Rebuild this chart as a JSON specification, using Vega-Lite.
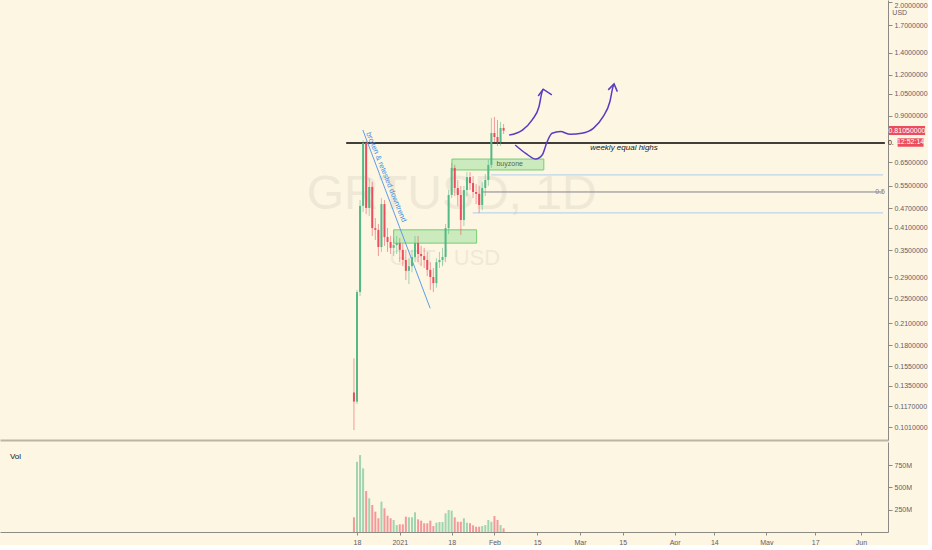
{
  "$schema": "https://vega.github.io/schema/vega-lite/v6.json",
  "background": "#fdf6e3",
  "padding": 0,
  "spacing": 2,
  "config": {
    "view": {"stroke": null},
    "font": "Liberation Sans",
    "axis": {"grid": false, "labelColor": "#5d606b", "labelFontSize": 7, "domainColor": "#8c8a85", "tickColor": "#8c8a85", "tickSize": 4, "labelPadding": 2}
  },
  "datasets": {
    "candles": [
      {"date": "2020-12-17T00:00", "open": 0.129, "high": 0.164, "low": 0.0991, "close": 0.121, "volume": 165000000},
      {"date": "2020-12-18T00:00", "open": 0.121, "high": 0.265, "low": 0.119, "close": 0.261, "volume": 788000000},
      {"date": "2020-12-19T00:00", "open": 0.261, "high": 0.498, "low": 0.254, "close": 0.478, "volume": 863000000},
      {"date": "2020-12-20T00:00", "open": 0.478, "high": 0.759, "low": 0.458, "close": 0.743, "volume": 714000000},
      {"date": "2020-12-21T00:00", "open": 0.743, "high": 0.754, "low": 0.451, "close": 0.471, "volume": 460000000},
      {"date": "2020-12-22T00:00", "open": 0.471, "high": 0.581, "low": 0.445, "close": 0.546, "volume": 378000000},
      {"date": "2020-12-23T00:00", "open": 0.546, "high": 0.565, "low": 0.387, "close": 0.409, "volume": 303000000},
      {"date": "2020-12-24T00:00", "open": 0.409, "high": 0.439, "low": 0.376, "close": 0.404, "volume": 228000000},
      {"date": "2020-12-25T00:00", "open": 0.404, "high": 0.421, "low": 0.336, "close": 0.358, "volume": 154000000},
      {"date": "2020-12-26T00:00", "open": 0.358, "high": 0.505, "low": 0.346, "close": 0.484, "volume": 340000000},
      {"date": "2020-12-27T00:00", "open": 0.484, "high": 0.498, "low": 0.361, "close": 0.384, "volume": 266000000},
      {"date": "2020-12-28T00:00", "open": 0.384, "high": 0.409, "low": 0.346, "close": 0.371, "volume": 183000000},
      {"date": "2020-12-29T00:00", "open": 0.371, "high": 0.387, "low": 0.341, "close": 0.356, "volume": 154000000},
      {"date": "2020-12-30T00:00", "open": 0.356, "high": 0.381, "low": 0.336, "close": 0.363, "volume": 135000000},
      {"date": "2020-12-31T00:00", "open": 0.363, "high": 0.387, "low": 0.341, "close": 0.368, "volume": 78000000},
      {"date": "2021-01-01T00:00", "open": 0.368, "high": 0.381, "low": 0.322, "close": 0.351, "volume": 86000000},
      {"date": "2021-01-02T00:00", "open": 0.351, "high": 0.366, "low": 0.313, "close": 0.327, "volume": 86000000},
      {"date": "2021-01-03T00:00", "open": 0.327, "high": 0.351, "low": 0.284, "close": 0.303, "volume": 172000000},
      {"date": "2021-01-04T00:00", "open": 0.303, "high": 0.331, "low": 0.276, "close": 0.313, "volume": 165000000},
      {"date": "2021-01-05T00:00", "open": 0.313, "high": 0.351, "low": 0.300, "close": 0.334, "volume": 165000000},
      {"date": "2021-01-06T00:00", "open": 0.334, "high": 0.387, "low": 0.322, "close": 0.368, "volume": 221000000},
      {"date": "2021-01-07T00:00", "open": 0.368, "high": 0.387, "low": 0.322, "close": 0.341, "volume": 142000000},
      {"date": "2021-01-08T00:00", "open": 0.341, "high": 0.361, "low": 0.313, "close": 0.336, "volume": 127000000},
      {"date": "2021-01-09T00:00", "open": 0.336, "high": 0.356, "low": 0.309, "close": 0.327, "volume": 98000000},
      {"date": "2021-01-10T00:00", "open": 0.327, "high": 0.346, "low": 0.292, "close": 0.305, "volume": 98000000},
      {"date": "2021-01-11T00:00", "open": 0.305, "high": 0.322, "low": 0.265, "close": 0.290, "volume": 127000000},
      {"date": "2021-01-12T00:00", "open": 0.290, "high": 0.309, "low": 0.261, "close": 0.278, "volume": 67000000},
      {"date": "2021-01-13T00:00", "open": 0.278, "high": 0.331, "low": 0.269, "close": 0.322, "volume": 104000000},
      {"date": "2021-01-14T00:00", "open": 0.322, "high": 0.346, "low": 0.309, "close": 0.327, "volume": 112000000},
      {"date": "2021-01-15T00:00", "open": 0.327, "high": 0.356, "low": 0.313, "close": 0.334, "volume": 112000000},
      {"date": "2021-01-16T00:00", "open": 0.334, "high": 0.421, "low": 0.322, "close": 0.409, "volume": 210000000},
      {"date": "2021-01-17T00:00", "open": 0.409, "high": 0.534, "low": 0.392, "close": 0.516, "volume": 247000000},
      {"date": "2021-01-18T00:00", "open": 0.516, "high": 0.646, "low": 0.505, "close": 0.624, "volume": 239000000},
      {"date": "2021-01-19T00:00", "open": 0.624, "high": 0.637, "low": 0.512, "close": 0.542, "volume": 165000000},
      {"date": "2021-01-20T00:00", "open": 0.542, "high": 0.573, "low": 0.478, "close": 0.516, "volume": 115000000},
      {"date": "2021-01-21T00:00", "open": 0.516, "high": 0.550, "low": 0.390, "close": 0.433, "volume": 115000000},
      {"date": "2021-01-22T00:00", "open": 0.433, "high": 0.550, "low": 0.415, "close": 0.534, "volume": 154000000},
      {"date": "2021-01-23T00:00", "open": 0.534, "high": 0.606, "low": 0.512, "close": 0.585, "volume": 104000000},
      {"date": "2021-01-24T00:00", "open": 0.585, "high": 0.606, "low": 0.534, "close": 0.561, "volume": 98000000},
      {"date": "2021-01-25T00:00", "open": 0.561, "high": 0.589, "low": 0.505, "close": 0.527, "volume": 75000000},
      {"date": "2021-01-26T00:00", "open": 0.527, "high": 0.557, "low": 0.484, "close": 0.520, "volume": 59000000},
      {"date": "2021-01-27T00:00", "open": 0.520, "high": 0.550, "low": 0.455, "close": 0.481, "volume": 59000000},
      {"date": "2021-01-28T00:00", "open": 0.481, "high": 0.565, "low": 0.464, "close": 0.542, "volume": 67000000},
      {"date": "2021-01-29T00:00", "open": 0.542, "high": 0.598, "low": 0.512, "close": 0.573, "volume": 78000000},
      {"date": "2021-01-30T00:00", "open": 0.573, "high": 0.660, "low": 0.550, "close": 0.637, "volume": 135000000},
      {"date": "2021-01-31T00:00", "open": 0.637, "high": 0.886, "low": 0.624, "close": 0.797, "volume": 115000000},
      {"date": "2021-02-01T00:00", "open": 0.797, "high": 0.892, "low": 0.748, "close": 0.775, "volume": 179000000},
      {"date": "2021-02-02T00:00", "open": 0.775, "high": 0.873, "low": 0.728, "close": 0.748, "volume": 135000000},
      {"date": "2021-02-03T00:00", "open": 0.748, "high": 0.861, "low": 0.728, "close": 0.826, "volume": 78000000},
      {"date": "2021-02-04T00:00", "open": 0.826, "high": 0.849, "low": 0.792, "close": 0.8105, "volume": 41000000}
    ],
    "wm1": [{"date": "2021-01-18T00:00", "price": 0.516, "t": "GRTUSD, 1D"}],
    "wm2": [{"date": "2021-01-15T19:00", "price": 0.331, "t": "GRT / USD"}],
    "zones": [
      {"start": "2021-01-18T02:00", "end": "2021-02-17T04:00", "lo": 0.615, "hi": 0.664},
      {"start": "2020-12-30T00:00", "end": "2021-01-26T04:00", "lo": 0.368, "hi": 0.404}
    ],
    "zonetext": [{"date": "2021-02-01T16:00", "price": 0.641, "t": "buyzone"}],
    "fibs": [
      {"start": "2021-01-30T22:00", "end": "2021-06-08T05:20", "price": 0.594, "kind": "edge"},
      {"start": "2021-01-27T17:00", "end": "2021-06-08T05:20", "price": 0.527, "kind": "mid"},
      {"start": "2021-01-24T21:00", "end": "2021-06-08T05:20", "price": 0.455, "kind": "edge"}
    ],
    "fibtext": [{"date": "2021-06-08T05:20", "price": 0.527, "t": "0.5"}],
    "level": [{"start": "2020-12-14T11:00", "end": "2021-06-08T20:00", "price": 0.743}],
    "leveltext": [{"date": "2021-03-15T10:00", "price": 0.743, "t": "weekly equal highs"}],
    "trend": [
      {"date": "2020-12-19T22:00", "price": 0.814},
      {"date": "2021-01-10T23:00", "price": 0.233}
    ],
    "trendtext": [{"date": "2020-12-27T12:00", "price": 0.585, "t": "broken & retested downtrend"}],
    "arrows": [
      {"s": "a1", "o": 1, "date": "2021-02-05T20:00", "price": 0.786},
      {"s": "a1", "o": 2, "date": "2021-02-10T04:00", "price": 0.814},
      {"s": "a1", "o": 3, "date": "2021-02-13T07:00", "price": 0.873},
      {"s": "a1", "o": 4, "date": "2021-02-15T14:00", "price": 0.959},
      {"s": "a1", "o": 5, "date": "2021-02-16T15:00", "price": 1.066},
      {"s": "a1", "o": 6, "date": "2021-02-16T23:00", "price": 1.084},
      {"s": "a2", "o": 1, "date": "2021-02-07T19:00", "price": 0.733},
      {"s": "a2", "o": 2, "date": "2021-02-11T06:00", "price": 0.691},
      {"s": "a2", "o": 3, "date": "2021-02-14T12:00", "price": 0.664},
      {"s": "a2", "o": 4, "date": "2021-02-16T15:00", "price": 0.683},
      {"s": "a2", "o": 5, "date": "2021-02-18T06:00", "price": 0.750},
      {"s": "a2", "o": 6, "date": "2021-02-19T21:00", "price": 0.796},
      {"s": "a2", "o": 7, "date": "2021-02-22T14:00", "price": 0.805},
      {"s": "a2", "o": 8, "date": "2021-02-25T20:00", "price": 0.790},
      {"s": "a2", "o": 9, "date": "2021-03-01T14:00", "price": 0.796},
      {"s": "a2", "o": 10, "date": "2021-03-05T09:00", "price": 0.824},
      {"s": "a2", "o": 11, "date": "2021-03-08T14:00", "price": 0.894},
      {"s": "a2", "o": 12, "date": "2021-03-10T19:00", "price": 0.993},
      {"s": "a2", "o": 13, "date": "2021-03-11T20:00", "price": 1.104},
      {"s": "a2", "o": 14, "date": "2021-03-12T04:00", "price": 1.125}
    ],
    "heads": [
      {"s": "h1", "o": 1, "date": "2021-02-15T08:00", "price": 1.034},
      {"s": "h1", "o": 2, "date": "2021-02-16T23:00", "price": 1.084},
      {"s": "h1", "o": 3, "date": "2021-02-19T19:00", "price": 1.041},
      {"s": "h2", "o": 1, "date": "2021-03-10T06:00", "price": 1.079},
      {"s": "h2", "o": 2, "date": "2021-03-12T04:00", "price": 1.125},
      {"s": "h2", "o": 3, "date": "2021-03-13T06:00", "price": 1.066}
    ],
    "hiddenlabel": [{"date": "2021-06-09T20:00", "price": 0.743, "t": "0."}],
    "tags": [
      {"x1": "2021-06-10T04:00", "x2": "2021-06-22T00:00", "lo": 0.786, "hi": 0.838},
      {"x1": "2021-06-13T00:00", "x2": "2021-06-21T12:00", "lo": 0.724, "hi": 0.768}
    ],
    "tagtext": [
      {"date": "2021-06-16T02:00", "price": 0.8105, "t": "0.81050000"},
      {"date": "2021-06-17T06:00", "price": 0.746, "t": "12:52:14"}
    ],
    "usd": [{"date": "2021-06-13T17:00", "price": 1.85, "t": "USD"}],
    "voltext": [{"date": "2020-08-26T09:00", "v": 841000000, "t": "Vol"}]
  },
  "vconcat": [
    {
      "width": 888,
      "height": 440,
      "layer": [
        {
          "data": {"name": "wm1"},
          "mark": {"type": "text", "fontSize": 48, "color": "#000000", "opacity": 0.05, "align": "center", "baseline": "middle"},
          "encoding": {
            "x": {"field": "date", "type": "temporal", "title": null,
                  "scale": {"domain": [{"year": 2020, "month": 8, "date": 24, "hours": 18}, {"year": 2021, "month": 6, "date": 8, "hours": 5, "minutes": 20}]},
                  "axis": {"labels": false, "ticks": false, "domainColor": "#bdb5a4", "domainWidth": 2, "title": null}},
            "y": {"field": "price", "type": "quantitative", "title": null,
                  "scale": {"type": "log", "domain": [0.0924, 2.028], "nice": false, "zero": false},
                  "axis": {"orient": "right", "values": [0.101, 0.117, 0.135, 0.155, 0.18, 0.21, 0.25, 0.29, 0.35, 0.41, 0.47, 0.55, 0.65, 0.9, 1.05, 1.2, 1.4, 1.7, 2.0], "format": ".7f", "title": null, "labelOverlap": false,
                           "labelBaseline": {"condition": {"test": "datum.value > 1.9", "value": "top"}, "value": "middle"}}},
            "text": {"field": "t"}
          }
        },
        {
          "data": {"name": "wm2"},
          "mark": {"type": "text", "fontSize": 22, "color": "#000000", "opacity": 0.05, "align": "center", "baseline": "middle"},
          "encoding": {
            "x": {"field": "date", "type": "temporal", "title": null},
            "y": {"field": "price", "type": "quantitative", "title": null},
            "text": {"field": "t"}
          }
        },
        {
          "data": {"name": "zones"},
          "mark": {"type": "rect", "fill": "#8fdc8f", "fillOpacity": 0.45, "stroke": "#74cf74", "strokeWidth": 1},
          "encoding": {
            "x": {"field": "start", "type": "temporal", "title": null},
            "x2": {"field": "end"},
            "y": {"field": "lo", "type": "quantitative", "title": null},
            "y2": {"field": "hi"}
          }
        },
        {
          "data": {"name": "zonetext"},
          "mark": {"type": "text", "align": "left", "baseline": "middle", "fontSize": 7, "color": "#4f6a52"},
          "encoding": {
            "x": {"field": "date", "type": "temporal", "title": null},
            "y": {"field": "price", "type": "quantitative", "title": null},
            "text": {"field": "t"}
          }
        },
        {
          "data": {"name": "fibs"},
          "mark": {"type": "rule", "strokeWidth": 1},
          "encoding": {
            "x": {"field": "start", "type": "temporal", "title": null},
            "x2": {"field": "end"},
            "y": {"field": "price", "type": "quantitative", "title": null},
            "color": {"field": "kind", "type": "nominal", "legend": null, "scale": {"domain": ["edge", "mid"], "range": ["#a9cdef", "#85818e"]}}
          }
        },
        {
          "data": {"name": "fibtext"},
          "mark": {"type": "text", "align": "right", "baseline": "middle", "fontSize": 7, "color": "#85818e", "dx": 2},
          "encoding": {
            "x": {"field": "date", "type": "temporal", "title": null},
            "y": {"field": "price", "type": "quantitative", "title": null},
            "text": {"field": "t"}
          }
        },
        {
          "data": {"name": "level"},
          "mark": {"type": "rule", "strokeWidth": 1.5, "color": "#000000"},
          "encoding": {
            "x": {"field": "start", "type": "temporal", "title": null},
            "x2": {"field": "end"},
            "y": {"field": "price", "type": "quantitative", "title": null}
          }
        },
        {
          "data": {"name": "trend"},
          "mark": {"type": "line", "strokeWidth": 1, "color": "#5c9ee6"},
          "encoding": {
            "x": {"field": "date", "type": "temporal", "title": null},
            "y": {"field": "price", "type": "quantitative", "title": null}
          }
        },
        {
          "data": {"name": "candles"},
          "mark": {"type": "rule", "strokeWidth": 1, "opacity": 0.55},
          "encoding": {
            "x": {"field": "date", "type": "temporal", "title": null},
            "y": {"field": "low", "type": "quantitative", "title": null},
            "y2": {"field": "high"},
            "color": {"condition": {"test": "datum.close >= datum.open", "value": "#53b987"}, "value": "#eb4d5c"}
          }
        },
        {
          "data": {"name": "candles"},
          "mark": {"type": "bar", "size": 2},
          "encoding": {
            "x": {"field": "date", "type": "temporal", "title": null},
            "y": {"field": "open", "type": "quantitative", "title": null},
            "y2": {"field": "close"},
            "color": {"condition": {"test": "datum.close >= datum.open", "value": "#53b987"}, "value": "#eb4d5c"}
          }
        },
        {
          "data": {"name": "arrows"},
          "mark": {"type": "line", "interpolate": "monotone", "strokeWidth": 1.5, "color": "#5a3cc2"},
          "encoding": {
            "x": {"field": "date", "type": "temporal", "title": null},
            "y": {"field": "price", "type": "quantitative", "title": null},
            "detail": {"field": "s"},
            "order": {"field": "o", "type": "quantitative"}
          }
        },
        {
          "data": {"name": "heads"},
          "mark": {"type": "line", "strokeWidth": 1.5, "color": "#5a3cc2"},
          "encoding": {
            "x": {"field": "date", "type": "temporal", "title": null},
            "y": {"field": "price", "type": "quantitative", "title": null},
            "detail": {"field": "s"},
            "order": {"field": "o", "type": "quantitative"}
          }
        },
        {
          "data": {"name": "leveltext"},
          "mark": {"type": "text", "align": "center", "baseline": "top", "fontSize": 8, "fontStyle": "italic", "color": "#131722", "dy": 1},
          "encoding": {
            "x": {"field": "date", "type": "temporal", "title": null},
            "y": {"field": "price", "type": "quantitative", "title": null},
            "text": {"field": "t"}
          }
        },
        {
          "data": {"name": "trendtext"},
          "mark": {"type": "text", "align": "center", "baseline": "middle", "fontSize": 7.5, "angle": 68, "color": "#3f8ee0"},
          "encoding": {
            "x": {"field": "date", "type": "temporal", "title": null},
            "y": {"field": "price", "type": "quantitative", "title": null},
            "text": {"field": "t"}
          }
        },
        {
          "data": {"name": "hiddenlabel"},
          "mark": {"type": "text", "align": "left", "baseline": "middle", "fontSize": 7, "color": "#131722"},
          "encoding": {
            "x": {"field": "date", "type": "temporal", "title": null},
            "y": {"field": "price", "type": "quantitative", "title": null},
            "text": {"field": "t"}
          }
        },
        {
          "data": {"name": "tags"},
          "mark": {"type": "rect", "fill": "#eb4d5c"},
          "encoding": {
            "x": {"field": "x1", "type": "temporal", "title": null},
            "x2": {"field": "x2"},
            "y": {"field": "lo", "type": "quantitative", "title": null},
            "y2": {"field": "hi"}
          }
        },
        {
          "data": {"name": "tagtext"},
          "mark": {"type": "text", "align": "center", "baseline": "middle", "fontSize": 7, "color": "#ffffff"},
          "encoding": {
            "x": {"field": "date", "type": "temporal", "title": null},
            "y": {"field": "price", "type": "quantitative", "title": null},
            "text": {"field": "t"}
          }
        },
        {
          "data": {"name": "usd"},
          "mark": {"type": "text", "align": "center", "baseline": "middle", "fontSize": 7, "color": "#5d606b"},
          "encoding": {
            "x": {"field": "date", "type": "temporal", "title": null},
            "y": {"field": "price", "type": "quantitative", "title": null},
            "text": {"field": "t"}
          }
        }
      ]
    },
    {
      "width": 888,
      "height": 90,
      "layer": [
        {
          "data": {"name": "candles"},
          "mark": {"type": "bar", "size": 2, "opacity": 0.55},
          "encoding": {
            "x": {"field": "date", "type": "temporal", "title": null,
                  "scale": {"domain": [{"year": 2020, "month": 8, "date": 24, "hours": 18}, {"year": 2021, "month": 6, "date": 8, "hours": 5, "minutes": 20}]},
                  "axis": {
                    "title": null, "tickSize": 3, "labelPadding": 3, "labelFlush": false, "labelOverlap": false,
                    "values": [
                      {"year": 2020, "month": 12, "date": 18}, {"year": 2021, "month": 1, "date": 1},
                      {"year": 2021, "month": 1, "date": 18}, {"year": 2021, "month": 2, "date": 1},
                      {"year": 2021, "month": 2, "date": 15}, {"year": 2021, "month": 3, "date": 1},
                      {"year": 2021, "month": 3, "date": 15}, {"year": 2021, "month": 4, "date": 1},
                      {"year": 2021, "month": 4, "date": 14}, {"year": 2021, "month": 5, "date": 1},
                      {"year": 2021, "month": 5, "date": 17}, {"year": 2021, "month": 6, "date": 1}
                    ],
                    "labelExpr": "date(datum.value) == 1 ? (month(datum.value) == 0 ? timeFormat(datum.value, '%Y') : timeFormat(datum.value, '%b')) : timeFormat(datum.value, '%-d')"
                  }},
            "y": {"field": "volume", "type": "quantitative", "title": null,
                  "scale": {"domain": [0, 1010000000], "nice": false},
                  "axis": {"orient": "right", "values": [250000000, 500000000, 750000000], "labelExpr": "format(datum.value / 1000000, 'd') + 'M'", "title": null}},
            "color": {"condition": {"test": "datum.close >= datum.open", "value": "#53b987"}, "value": "#eb4d5c"}
          }
        },
        {
          "data": {"name": "voltext"},
          "mark": {"type": "text", "align": "left", "baseline": "middle", "fontSize": 8, "color": "#131722"},
          "encoding": {
            "x": {"field": "date", "type": "temporal", "title": null},
            "y": {"field": "v", "type": "quantitative", "title": null},
            "text": {"field": "t"}
          }
        }
      ]
    }
  ]
}
